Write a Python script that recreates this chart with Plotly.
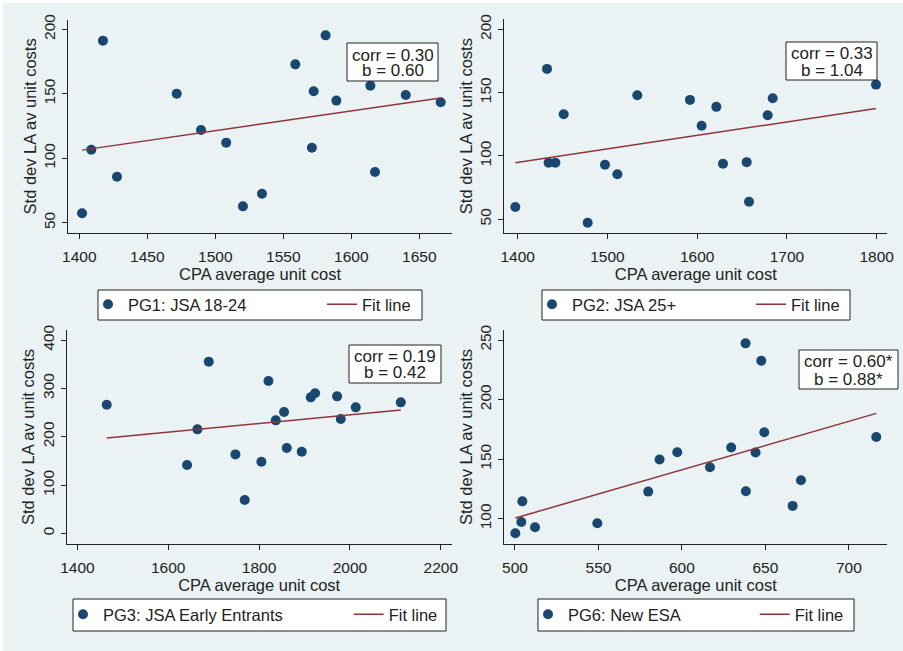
import plotly.graph_objects as go

W, H = 903, 651

# ---------------- data ----------------
labels = ["PG1: JSA 18-24", "PG2: JSA 25+", "PG3: JSA Early Entrants", "PG6: New ESA"]
stats_text = [["corr = 0.30", "b = 0.60"], ["corr = 0.33", "b = 1.04"],
              ["corr = 0.19", "b = 0.42"], ["corr = 0.60*", "b = 0.88*"]]

pg1_x = [1402, 1408.8, 1417.4, 1427.7, 1471.6, 1489.5, 1508, 1520.3, 1534.3,
         1558.8, 1571, 1572.3, 1581.1, 1589, 1614, 1617.4, 1640, 1665.7]
pg1_y = [57.3, 106.6, 191.2, 85.7, 150.1, 121.9, 112.1, 62.7, 72.5,
         172.8, 108.2, 151.9, 195.3, 144.7, 156.3, 89.3, 149.1, 143.4]

pg2_x = [1397.4, 1432.7, 1434.5, 1442, 1451.3, 1478, 1497.3, 1511.1, 1533.3,
         1592, 1605, 1621.4, 1628.8, 1655.2, 1657.8, 1678.6, 1684.2, 1799.3]
pg2_y = [59.5, 168.7, 94.5, 94.5, 132.9, 47.1, 92.9, 85.5, 147.9,
         144.2, 123.7, 138.7, 93.7, 95, 63.7, 132.1, 145.5, 156.3]

pg3_x = [1464.6, 1641.5, 1664.2, 1689.2, 1747.9, 1768.4, 1805.1, 1820.6, 1836.7,
         1855, 1860.9, 1893.9, 1913.8, 1923.3, 1971.7, 1979.8, 2012.8, 2111.9]
pg3_y = [266.2, 141.4, 215.2, 355.2, 163.4, 69, 148.3, 315.2, 233.8,
         251, 176.6, 169, 281.4, 289.7, 283.4, 236.6, 260.7, 271.0]

pg6_x = [500.2, 503.8, 504.4, 512, 549.3, 579.8, 586.6, 597.2, 616.8,
         629.5, 638.1, 638.3, 644.1, 647.5, 649.3, 666.3, 671.3, 716.4]
pg6_y = [87.7, 97.2, 114.5, 92.7, 96.1, 122.7, 149.6, 155.7, 143.2,
         159.7, 247.2, 123, 155.5, 232.6, 172.5, 110.7, 132.2, 168.6]

# fitted line values at min(x) and max(x)
fit_y_start = [106.3, 94.5, 197.2, 100.5]
fit_y_end = [146.8, 137.4, 255.2, 188.4]

xs = [pg1_x, pg2_x, pg3_x, pg6_x]
ys = [pg1_y, pg2_y, pg3_y, pg6_y]

x_ticks = [[1400, 1450, 1500, 1550, 1600, 1650], [1400, 1500, 1600, 1700, 1800],
           [1400, 1600, 1800, 2000, 2200], [500, 550, 600, 650, 700]]
y_ticks = [[50, 100, 150, 200], [50, 100, 150, 200],
           [0, 100, 200, 300, 400], [100, 150, 200, 250]]

# ---------------- layout geometry (pixels) ----------------
x_ranges = [[1391.9, 1673.8], [1385.1, 1811.9], [1376.5, 2224], [493.6, 723]]
y_ranges = [[41.8, 207.6], [39, 207.9], [-22, 420.7], [78.7, 258.4]]
panels_px = [(68.3, 451.7, 19.5, 233.3), (504.3, 887.3, 19.3, 233.0),
             (66.7, 451.7, 330, 544), (504.3, 887.3, 330, 544)]
stat_boxes = [(347, 438, 43, 81, 55, 70.5), (786, 877, 42, 80, 54, 70),
              (349, 441, 345, 383, 356.7, 372.7), (799, 898, 350, 389, 361.7, 379)]
# legend frame: left, right, top, bottom, x where "Fit line" text starts
legend_boxes = [(98, 422, 290, 320, 364), (542, 850, 290, 320, 793),
                (73, 446, 599, 631, 390.7), (538, 854, 599, 631, 796.7)]


def fx(p):
    return p / W


def fy(p):
    return 1 - p / H


BG = "#eaf2f3"
NAVY = "#1a476f"
MAROON = "#90353b"
INK = "#222222"
FONT = "Liberation Sans, Arial, sans-serif"

fig = go.Figure()
layout = dict(
    width=W, height=H, margin=dict(l=0, r=0, t=0, b=0, autoexpand=False),
    paper_bgcolor="white", plot_bgcolor="white",
    font=dict(family=FONT, size=16.5, color=INK),
    shapes=[dict(type="rect", xref="paper", yref="paper", x0=fx(3), x1=1.01, y0=-0.01, y1=fy(3),
                 fillcolor=BG, line=dict(width=0), layer="below")],
    annotations=[],
)

for i in range(4):
    n = "" if i == 0 else str(i + 1)
    xa, ya = "x" + n, "y" + n
    lg = "legend" + n
    l, r, t, b = panels_px[i]
    fig.add_trace(go.Scatter(
        x=xs[i], y=ys[i], mode="markers", name=labels[i], xaxis=xa, yaxis=ya,
        marker=dict(size=10, color=NAVY), legend=lg, hoverinfo="x+y"))
    fx0, fx1 = min(xs[i]), max(xs[i])
    fig.add_trace(go.Scatter(
        x=[fx0, fx1], y=[fit_y_start[i], fit_y_end[i]], mode="lines", name="Fit line",
        xaxis=xa, yaxis=ya, line=dict(color=MAROON, width=1.5), legend=lg))

    layout["xaxis" + n] = dict(
        domain=[fx(l), fx(r)], anchor=ya, range=x_ranges[i],
        tickvals=x_ticks[i], ticks="outside", ticklen=5, tickcolor=INK,
        ticklabelstandoff=4,
        showline=True, linecolor=INK, linewidth=1, showgrid=False, zeroline=False,
        tickfont=dict(size=15.5, color=INK),
        title=dict(text="CPA average unit cost", font=dict(size=16.5, color=INK), standoff=0))
    layout["yaxis" + n] = dict(
        domain=[fy(b), fy(t)], anchor=xa, range=y_ranges[i],
        tickvals=y_ticks[i], ticks="outside", ticklen=5, tickcolor=INK, tickangle=-90,
        ticklabelstandoff=1,
        showline=True, linecolor=INK, linewidth=1, showgrid=True, gridcolor=BG,
        gridwidth=1, zeroline=False,
        tickfont=dict(size=15.5, color=INK),
        title=dict(text="Std dev LA av unit costs", font=dict(size=16.5, color=INK), standoff=0))

    bl, br, bt, bb, t2x = legend_boxes[i]
    layout["shapes"].append(dict(type="rect", xref="paper", yref="paper",
                                 x0=fx(bl), x1=fx(br), y0=fy(bb), y1=fy(bt),
                                 fillcolor="white", line=dict(color=INK, width=1)))
    layout[lg] = dict(
        x=fx(bl - 10), y=fy((bt + bb) / 2 - 18), xanchor="left", yanchor="top",
        orientation="h", bgcolor="rgba(0,0,0,0)", borderwidth=0,
        font=dict(size=16.5, color=INK),
        entrywidth=(t2x - bl) - 77, entrywidthmode="pixels")

    bx0, bx1, by0, by1, t1, t2 = stat_boxes[i]
    layout["shapes"].append(dict(type="rect", xref="paper", yref="paper",
                                 x0=fx(bx0), x1=fx(bx1), y0=fy(by1), y1=fy(by0),
                                 fillcolor="white", line=dict(color=INK, width=1)))
    for txt, tyy in zip(stats_text[i], (t1, t2)):
        layout["annotations"].append(dict(
            text=txt, xref="paper", yref="paper", x=fx((bx0 + bx1) / 2), y=fy(tyy),
            xanchor="center", yanchor="middle", showarrow=False, height=15,
            valign="middle", font=dict(size=17, color=INK)))

fig.update_layout(**layout)
fig.write_html(
    "out.html",
    config={"displayModeBar": False},
    post_script="document.body.style.margin='0px';document.body.style.overflow='hidden';",
)
